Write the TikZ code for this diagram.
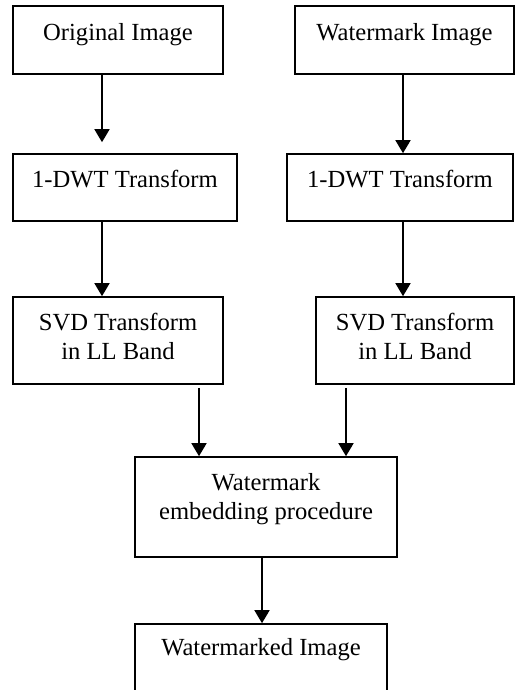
\documentclass[tikz,border=0pt]{standalone}
\usepackage{fontspec}
\setmainfont{Liberation Serif}
\usetikzlibrary{arrows.meta}

\tikzset{
  blk/.style={draw, rectangle, line width=0.8pt, inner sep=0pt, align=center,
    font=\fontsize{12.3}{14.5}\selectfont, text height=8.5pt},
  arr/.style={-{Triangle[width=7.5pt,length=6.5pt]}, line width=0.8pt}
}

\begin{document}
\begin{tikzpicture}[x=0.5pt,y=-0.5pt]
  \useasboundingbox (0,0) rectangle (515,690);
  \clip (0,0) rectangle (515,690);

  % Input images
  \node[blk, minimum width=105pt, minimum height=34pt, text depth=7.6pt] (orig) at (118,40) {Original Image};
  \node[blk, minimum width=109.5pt, minimum height=34pt, text depth=7.6pt] (wmk) at (404.5,40) {Watermark Image};

  % DWT stage
  \node[blk, minimum width=112pt, minimum height=33.5pt, text depth=8.1pt] (dwtL) at (125,187.5) {1-DWT Transform};
  \node[blk, minimum width=113pt, minimum height=33.5pt, text depth=8.1pt] (dwtR) at (400,187.5) {1-DWT Transform};

  % SVD stage
  \node[blk, minimum width=105pt, minimum height=43.5pt, text height=23pt, text depth=3.6pt] (svdL) at (118,340.5) {SVD Transform\\in LL Band};
  \node[blk, minimum width=99pt, minimum height=43.5pt, text height=23pt, text depth=3.6pt] (svdR) at (415,340.5) {SVD Transform\\in LL Band};

  % Embedding and output
  \node[blk, minimum width=131pt, minimum height=50pt, text height=23pt, text depth=10.6pt] (embed) at (266,507) {Watermark\\embedding procedure};
  \node[blk, minimum width=126pt, minimum height=38pt, text depth=14.6pt] (wmkd) at (261,662) {Watermarked Image};

  % Arrows
  \draw[arr, shorten >=5.5pt] ([xshift=-8pt]orig.south) -- ([xshift=-11.5pt]dwtL.north);
  \draw[arr] ([xshift=-0.75pt]wmk.south) -- ([xshift=1.5pt]dwtR.north);
  \draw[arr] ([xshift=-11.5pt]dwtL.south) -- ([xshift=-8pt]svdL.north);
  \draw[arr] ([xshift=1.5pt]dwtR.south) -- ([xshift=-6pt]svdR.north);
  \draw[arr, shorten <=1.5pt] ([xshift=40.5pt]svdL.south) -- ([xshift=-33.5pt]embed.north);
  \draw[arr, shorten <=1.5pt] ([xshift=-34.5pt]svdR.south) -- ([xshift=40pt]embed.north);
  \draw[arr] ([xshift=-2pt]embed.south) -- ([xshift=0.5pt]wmkd.north);
\end{tikzpicture}
\end{document}
